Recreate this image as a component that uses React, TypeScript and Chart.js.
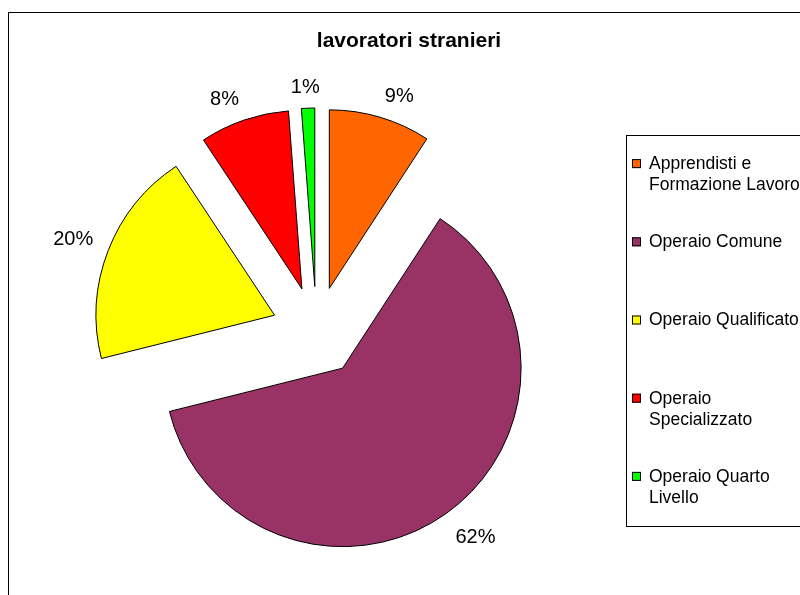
import React, { useEffect, useRef } from "react";
import { Chart, registerables } from "chart.js";

Chart.register(...registerables);

// ---- data ----
const categories: string[][] = [
  ["Apprendisti e", "Formazione Lavoro"],
  ["Operaio Comune"],
  ["Operaio Qualificato"],
  ["Operaio", "Specializzato"],
  ["Operaio Quarto", "Livello"],
];
const shares: number[] = [9.2, 61.9, 19.6, 8.1, 1.2];
const sliceColors: string[] = ["#FF6600", "#993366", "#FFFF00", "#FF0000", "#00FF00"];
const chartTitle = "lavoratori stranieri";

// ---- style ----
const FONT = "'Liberation Sans', Arial, Helvetica, sans-serif";
const EXPLODE = 45;

const clamp1 = (v: number) => Math.max(-1, Math.min(1, v));

const explodePlugin = {
  id: "explodeSlices",
  afterDatasetUpdate(chart: any, args: any) {
    const meta = chart.getDatasetMeta(args.index);
    const ca = chart.chartArea;
    const cx = (ca.left + ca.right) / 2;
    const cy = (ca.top + ca.bottom) / 2;
    meta.data.forEach((arc: any) => {
      const mid = (arc.startAngle + arc.endAngle) / 2;
      arc.x = cx + Math.cos(mid) * EXPLODE;
      arc.y = cy + Math.sin(mid) * EXPLODE;
    });
  },
};

const framePlugin = {
  id: "frameAndTexts",
  beforeDraw(chart: any) {
    const ctx = chart.ctx;
    ctx.save();
    ctx.fillStyle = "#ffffff";
    ctx.fillRect(0, 0, chart.width, chart.height);
    ctx.strokeStyle = "#000000";
    ctx.lineWidth = 1;
    ctx.strokeRect(8.5, 12.5, 810, 620);
    ctx.restore();
  },
  afterDatasetsDraw(chart: any) {
    const ctx = chart.ctx;
    const meta = chart.getDatasetMeta(0);
    const data = chart.data.datasets[0].data as number[];
    const total = data.reduce((a, b) => a + b, 0);
    ctx.save();
    ctx.font = `20px ${FONT}`;
    ctx.fillStyle = "#000000";
    ctx.textAlign = "center";
    ctx.textBaseline = "middle";
    meta.data.forEach((arc: any, i: number) => {
      const txt = Math.round((data[i] / total) * 100) + "%";
      const mid = (arc.startAngle + arc.endAngle) / 2;
      const dx = Math.cos(mid);
      const dy = Math.sin(mid);
      const w = ctx.measureText(txt).width;
      const h = 16;
      const r = arc.outerRadius + 16;
      const tx = arc.x + dx * r + clamp1(dx * 4) * w / 2;
      const ty = arc.y + dy * r + clamp1(dy * 4) * h / 2 + 3;
      ctx.fillText(txt, tx, ty);
    });
    ctx.restore();
  },
  afterDraw(chart: any) {
    const ctx = chart.ctx;
    ctx.save();
    // title
    ctx.font = `bold 21px ${FONT}`;
    ctx.fillStyle = "#000000";
    ctx.textAlign = "center";
    ctx.textBaseline = "middle";
    ctx.fillText(chartTitle, 409, 41);

    // legend
    const boxX = 626.5, boxY = 135.5, boxW = 220, boxH = 391;
    ctx.strokeStyle = "#000000";
    ctx.lineWidth = 1;
    ctx.strokeRect(boxX, boxY, boxW, boxH);
    const labels = chart.data.labels as string[][];
    const colors = chart.data.datasets[0].backgroundColor as string[];
    const slot = boxH / labels.length;
    const lineH = 21;
    ctx.font = `17.5px ${FONT}`;
    ctx.textAlign = "left";
    labels.forEach((lines, i) => {
      const firstY = boxY + slot * (i + 0.5) - lineH / 2;
      ctx.fillStyle = colors[i];
      ctx.fillRect(632, firstY - 5, 9, 9);
      ctx.strokeStyle = "#000000";
      ctx.strokeRect(632.5, firstY - 4.5, 8, 8);
      ctx.fillStyle = "#000000";
      lines.forEach((ln, j) => {
        ctx.fillText(ln, 649, firstY + j * lineH);
      });
    });
    ctx.restore();
  },
};

export default function App() {
  const ref = useRef<HTMLCanvasElement | null>(null);
  useEffect(() => {
    if (!ref.current) return;
    const chart = new Chart(ref.current, {
      type: "pie",
      data: {
        labels: categories,
        datasets: [
          {
            data: shares,
            backgroundColor: sliceColors,
            borderColor: "#000000",
            borderWidth: 1,
          },
        ],
      },
      options: {
        responsive: false,
        animation: false,
        events: [],
        radius: 178.5,
        layout: { padding: { left: 0, right: 167, top: 68, bottom: 0 } },
        plugins: {
          legend: { display: false },
          title: { display: false },
          tooltip: { enabled: false },
        },
      } as any,
      plugins: [explodePlugin, framePlugin],
    });
    return () => chart.destroy();
  }, []);
  return (
    <div style={{ position: "fixed", left: 0, top: 0, width: 800, height: 595 }}>
      <canvas ref={ref} width={800} height={595} style={{ display: "block" }} />
    </div>
  );
}
